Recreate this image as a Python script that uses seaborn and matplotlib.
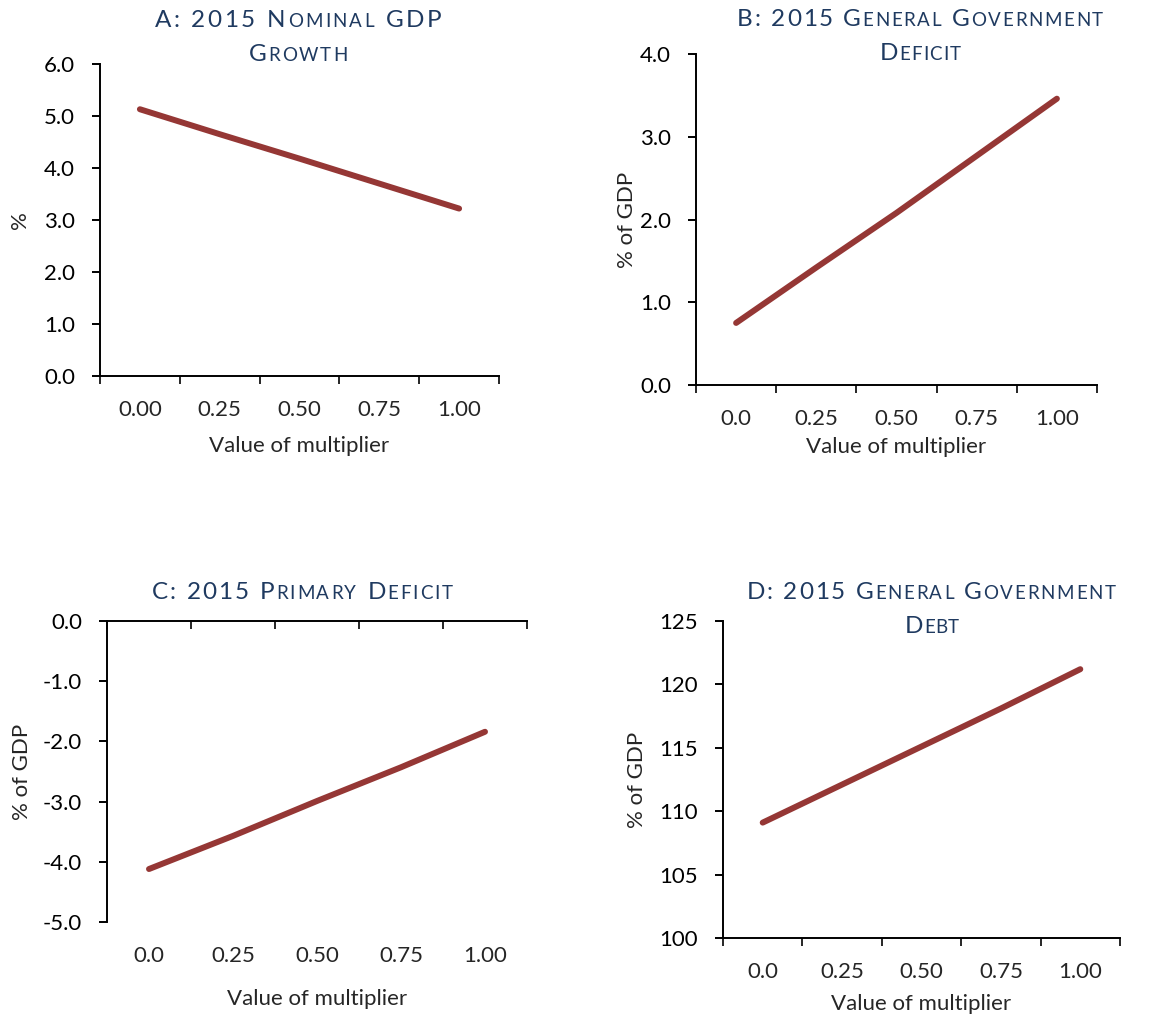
import numpy as np
import matplotlib
matplotlib.use('Agg')
import matplotlib.pyplot as plt
import seaborn as sns

# data
multiplier = [0.0, 0.25, 0.5, 0.75, 1.0]
gdp_growth = [5.13, 4.65, 4.18, 3.70, 3.22]
gg_deficit = [0.75, 1.42, 2.08, 2.77, 3.46]
primary_deficit = [-4.12, -3.57, -2.99, -2.43, -1.84]
gg_debt = [109.1, 112.1, 115.1, 118.1, 121.2]
labels_a = ['0.00', '0.25', '0.50', '0.75', '1.00']
labels_bcd = ['0.0', '0.25', '0.50', '0.75', '1.00']

LINE = '#953735'
TITLE = '#1F3A60'
W, H = 1149, 1019
FS = 16

sns.set_theme(style='white')
plt.rcParams['font.family'] = ['Lato', 'DejaVu Sans']
plt.rcParams['axes.edgecolor'] = 'black'
plt.rcParams['axes.linewidth'] = 1.4

fig = plt.figure(figsize=(W / 100, H / 100), dpi=100)
renderer = fig.canvas.get_renderer()


def smallcaps(text, xc, baseline, width, big=17.5, small=13.5):
    # fake small caps, one text per character, spread to the given width
    parts = []
    for ch in text:
        size = small if ch.islower() else big
        t = fig.text(0, 0, ch.upper(), fontsize=size, color=TITLE,
                     ha='left', va='baseline')
        if ch == ' ':
            w = big * 0.3 * 100 / 72
        else:
            w = t.get_window_extent(renderer).width
        parts.append((t, w))
    natural = sum(w for _, w in parts)
    track = (width - natural) / (len(parts) - 1)
    x = xc - width / 2
    for t, w in parts:
        t.set_position((x / W, 1 - baseline / H))
        x += w + track


def panel(rect, values, ylim, step, ylabel, xlabels, fmt, xpad, ypad, top_axis=False):
    l, t, r, b = rect
    ax = fig.add_axes([l / W, 1 - b / H, (r - l) / W, (b - t) / H])
    pos = np.arange(len(multiplier))
    sns.lineplot(x=pos, y=values, ax=ax, color=LINE, linewidth=4.3)
    for ln in ax.lines:
        ln.set_solid_capstyle('round')
    ax.set_xlim(-0.5, len(multiplier) - 0.5)
    ax.set_ylim(*ylim)
    yt = np.arange(ylim[0], ylim[1] + step / 2, step)
    ax.set_yticks(yt)
    ax.set_yticklabels([fmt.format(v) for v in yt])
    ax.set_xticks(np.arange(-0.5, len(multiplier)), minor=False)
    ax.set_xticklabels([])
    ax.set_xticks(pos, minor=True)
    ax.set_xticklabels(xlabels, minor=True)
    ax.tick_params(axis='y', which='major', direction='out', length=6, width=1.4,
                   pad=12, labelsize=FS, left=True, colors='black')
    ax.tick_params(axis='x', which='minor', length=0, pad=17, labelsize=FS,
                   bottom=True, labelbottom=True)
    if top_axis:
        ax.spines['bottom'].set_visible(False)
        ax.spines['right'].set_visible(False)
        ax.tick_params(axis='x', which='major', direction='in', length=6, width=1.4,
                       top=True, bottom=False, labeltop=False, labelbottom=False)
    else:
        sns.despine(ax=ax)
        ax.tick_params(axis='x', which='major', direction='out', length=6, width=1.4,
                       bottom=True)
    ax.set_xlabel('Value of multiplier', fontsize=FS, labelpad=xpad)
    ax.set_ylabel(ylabel, fontsize=FS, labelpad=ypad)
    ax.grid(False)
    return ax


axA = panel((100, 64, 499, 376), gdp_growth, (0, 6), 1, '%', labels_a, '{:.1f}', 12, 10)
axB = panel((696, 54, 1097, 385), gg_deficit, (0, 4), 1, '% of GDP', labels_bcd, '{:.1f}', 6, 2)
axC = panel((107, 621, 527, 922), primary_deficit, (-5, 0), 1, '% of GDP', labels_bcd,
            '{:.1f}', 17, 8, top_axis=True)
axD = panel((723, 621, 1120, 938), gg_debt, (100, 125), 5, '% of GDP', labels_bcd, '{:.0f}', 9, 9)

smallcaps('A: 2015 Nominal GDP', 298, 27, 287)
smallcaps('Growth', 298, 61, 99)
smallcaps('B: 2015 General Government', 920, 26, 366)
smallcaps('Deficit', 920, 60, 81)
smallcaps('C: 2015 Primary Deficit', 302, 599, 301)
smallcaps('D: 2015 General Government', 931, 599, 369)
smallcaps('Debt', 932, 633, 54)

fig.savefig('out.png', dpi=100, facecolor='white')
